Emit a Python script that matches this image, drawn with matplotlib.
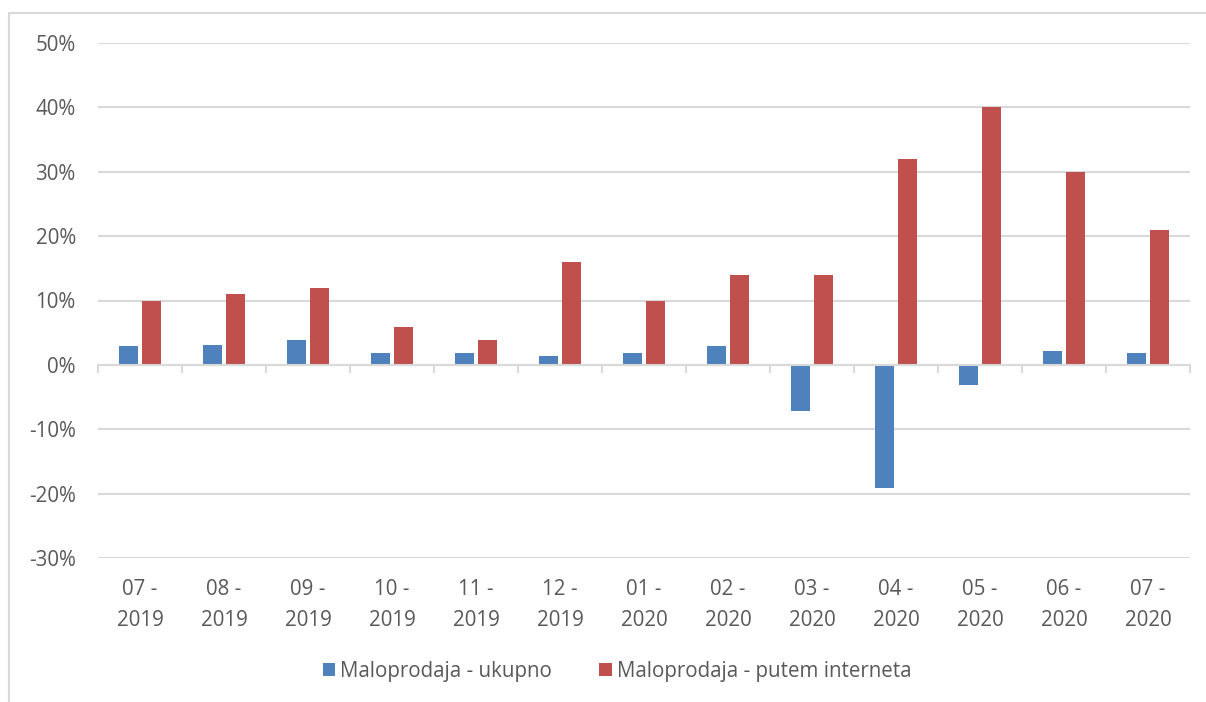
import matplotlib
matplotlib.use("Agg")
import matplotlib.pyplot as plt
from matplotlib.patches import Rectangle
from matplotlib.ticker import FuncFormatter, MultipleLocator
import numpy as np

plt.rcParams["font.family"] = ["Open Sans", "DejaVu Sans"]

months = ["07 -\n2019", "08 -\n2019", "09 -\n2019", "10 -\n2019", "11 -\n2019",
          "12 -\n2019", "01 -\n2020", "02 -\n2020", "03 -\n2020", "04 -\n2020",
          "05 -\n2020", "06 -\n2020", "07 -\n2020"]
ukupno = [2.9, 3.1, 3.9, 1.9, 1.9, 1.4, 1.9, 2.9, -7.1, -19.1, -3.1, 2.1, 1.8]
internet = [10, 11, 12, 5.9, 3.9, 16, 10, 14, 14, 32, 40, 30, 21]

BLUE = "#4F81BD"
RED = "#C0504D"
GRID = "#D9D9D9"
TXT = "#595959"
FS = 14.8

fig = plt.figure(figsize=(12.06, 7.02), dpi=100, facecolor="white")
W, H = 1206, 702
ax = fig.add_axes([98 / W, 1 - 558 / H, (1190 - 98) / W, (558 - 43) / H])

# outer chart frame
fig.patches.append(Rectangle((9 / W, -0.1), 1.2, 1 - 13 / H + 0.1,
                             transform=fig.transFigure, fill=False,
                             edgecolor=GRID, linewidth=1.5))

x = np.arange(len(months))
w = 0.225
ax.bar(x - 0.14, ukupno, w, color=BLUE, label="Maloprodaja - ukupno", zorder=3)
ax.bar(x + 0.14, internet, w, color=RED, label="Maloprodaja - putem interneta", zorder=3)

ax.set_xlim(-0.5, len(months) - 0.5)
ax.set_ylim(-30, 50)
ax.yaxis.set_major_locator(MultipleLocator(10))
ax.yaxis.set_major_formatter(FuncFormatter(lambda v, p: f"{v:.0f}%"))
ax.grid(axis="y", color=GRID, linewidth=1.5, zorder=0)
ax.tick_params(axis="y", length=0, labelsize=FS, labelcolor=TXT, pad=16)

for s in ["left", "right", "top"]:
    ax.spines[s].set_visible(False)
ax.spines["bottom"].set_position(("data", 0))
ax.spines["bottom"].set_color(GRID)
ax.spines["bottom"].set_linewidth(1.5)
ax.spines["bottom"].set_zorder(4)

ax.set_xticks(np.arange(len(months) + 1) - 0.5)
ax.set_xticklabels([])
ax.tick_params(axis="x", length=6, width=1.5, color=GRID, direction="out")

for i, m in enumerate(months):
    ax.text(i, -0.04, m, transform=ax.get_xaxis_transform(), ha="center",
            va="top", fontsize=FS, color=TXT, linespacing=1.65)

leg = fig.legend(loc="center", bbox_to_anchor=(617 / W, 1 - 671 / H), ncol=2,
                 frameon=False, fontsize=FS, handlelength=0.6, handleheight=0.6,
                 handletextpad=0.25, columnspacing=2.3)
for t in leg.get_texts():
    t.set_color(TXT)

fig.savefig("out.png", dpi=100, facecolor="white")
